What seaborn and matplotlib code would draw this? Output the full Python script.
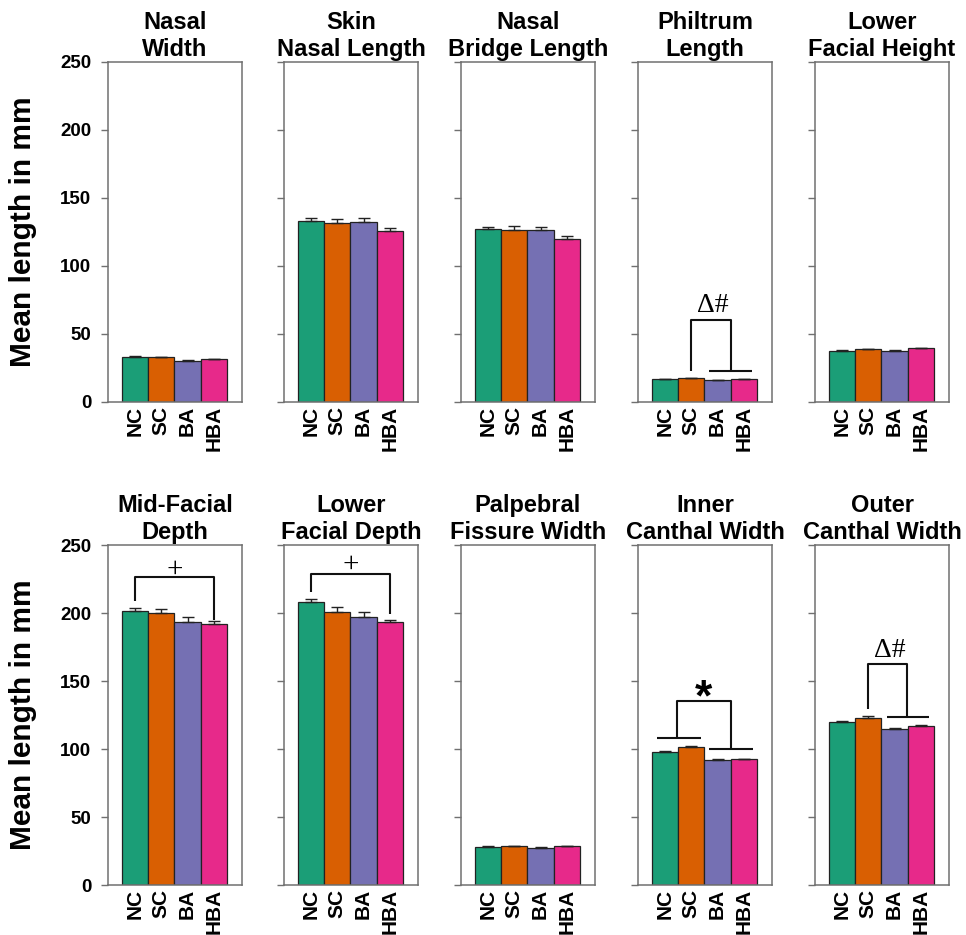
import matplotlib
matplotlib.use("Agg")
import matplotlib.pyplot as plt
import seaborn as sns
import numpy as np

sns.set_style("white")
plt.rcParams['font.family'] = ['Liberation Sans', 'DejaVu Sans']
plt.rcParams['text.color'] = 'black'
plt.rcParams['xtick.color'] = 'black'
plt.rcParams['ytick.color'] = 'black'
plt.rcParams['axes.labelcolor'] = 'black'

# ---------------- data ----------------
groups = ["NC", "SC", "BA", "HBA"]

titles = [
    "Nasal\nWidth", "Skin\nNasal Length", "Nasal\nBridge Length", "Philtrum\nLength", "Lower\nFacial Height",
    "Mid-Facial\nDepth", "Lower\nFacial Depth", "Palpebral\nFissure Width", "Inner\nCanthal Width", "Outer\nCanthal Width",
]

nasal_width = [33.3, 32.8, 30.4, 31.4]
nasal_width_err = [0.5, 0.6, 0.5, 0.5]
skin_nasal_length = [133.3, 131.8, 132.4, 125.7]
skin_nasal_length_err = [2.0, 3.0, 3.0, 2.4]
nasal_bridge_length = [127.0, 126.5, 126.5, 119.6]
nasal_bridge_length_err = [1.5, 3.0, 2.5, 2.2]
philtrum_length = [16.7, 17.4, 16.2, 16.9]
philtrum_length_err = [0.3, 0.3, 0.3, 0.3]
lower_facial_height = [37.7, 38.7, 37.5, 39.5]
lower_facial_height_err = [0.5, 0.6, 0.5, 0.5]
mid_facial_depth = [201.7, 199.8, 193.6, 191.9]
mid_facial_depth_err = [2.0, 3.0, 3.7, 2.2]
lower_facial_depth = [207.8, 200.7, 197.0, 193.4]
lower_facial_depth_err = [2.7, 4.0, 3.7, 1.2]
palpebral_fissure_width = [28.3, 28.6, 27.5, 28.4]
palpebral_fissure_width_err = [0.4, 0.4, 0.4, 0.4]
inner_canthal_width = [98.0, 101.2, 91.9, 92.4]
inner_canthal_width_err = [0.7, 0.9, 0.5, 0.6]
outer_canthal_width = [119.6, 122.8, 114.9, 116.9]
outer_canthal_width_err = [1.0, 1.2, 0.7, 0.9]

means = [nasal_width, skin_nasal_length, nasal_bridge_length, philtrum_length, lower_facial_height,
         mid_facial_depth, lower_facial_depth, palpebral_fissure_width, inner_canthal_width, outer_canthal_width]
errs = [nasal_width_err, skin_nasal_length_err, nasal_bridge_length_err, philtrum_length_err, lower_facial_height_err,
        mid_facial_depth_err, lower_facial_depth_err, palpebral_fissure_width_err, inner_canthal_width_err,
        outer_canthal_width_err]

yticks = [0, 50, 100, 150, 200, 250]
ylabel = "Mean length in mm"

# ---------------- figure ----------------
W, H = 966, 935
fig = plt.figure(figsize=(W / 100, H / 100), dpi=100)
palette = sns.color_palette("Dark2", 4)

lefts_px = [108, 284, 461, 638, 815]
row_bottoms_px = [402, 885]
ax_w_px, ax_h_px = 134, 340
spine_col = "#707070"

axes = []
for i in range(10):
    r, c = divmod(i, 5)
    l = lefts_px[c] / W
    b = (H - row_bottoms_px[r]) / H
    ax = fig.add_axes([l, b, ax_w_px / W, ax_h_px / H])
    axes.append(ax)
    sns.barplot(x=groups, y=means[i], hue=groups, palette=palette, width=1.0, saturation=1,
                edgecolor="#222222", linewidth=0.9, legend=False, ax=ax, errorbar=None)
    ax.errorbar(np.arange(4), means[i], yerr=[np.zeros(4), errs[i]], fmt="none",
                ecolor="#222222", elinewidth=1.0, capsize=4.5, capthick=1.0)
    ax.set_xlim(-1.03, 4.07)
    ax.set_ylim(0, 250)
    ax.set_yticks(yticks)
    ax.set_xlabel("")
    ax.set_ylabel("")
    for s in ax.spines.values():
        s.set_visible(True)
        s.set_color(spine_col)
        s.set_linewidth(1.1)
    ax.tick_params(axis="y", direction="out", length=5, width=1.0, color=spine_col,
                   left=True, labelsize=13.5, pad=7)
    ax.tick_params(axis="x", length=0, pad=3, labelsize=15)
    for t in ax.get_xticklabels():
        t.set_rotation(90)
        t.set_fontweight("bold")
    if c == 0:
        for t in ax.get_yticklabels():
            t.set_fontweight("bold")
        ax.set_ylabel(ylabel, fontsize=21.5, fontweight="bold", labelpad=17)
    else:
        ax.set_yticklabels([])
    ax.set_title(titles[i], fontsize=17, fontweight="bold", pad=4, linespacing=1.25)
    ax.set_facecolor("white")

# ---------------- significance annotations ----------------
lk = dict(color="#111111", lw=1.5, solid_capstyle="butt")
serif = ['Liberation Serif', 'DejaVu Serif']

# Philtrum Length
ax = axes[3]
ax.plot([1, 1, 2.5, 2.5], [23, 60, 60, 23], **lk)
ax.plot([1.68, 3.32], [23, 23], **lk)
ax.text(1.8, 61.5, "Δ#", ha="center", va="bottom", fontsize=20, family=serif)

# Mid-Facial Depth
ax = axes[5]
ax.plot([0, 0, 3, 3], [208.5, 226.5, 226.5, 195], **lk)
ax.text(1.5, 222.5, "+", ha="center", va="bottom", fontsize=21, family=serif)

# Lower Facial Depth
ax = axes[6]
ax.plot([0, 0, 3, 3], [215.5, 229, 229, 199], **lk)
ax.text(1.5, 225.5, "+", ha="center", va="bottom", fontsize=21, family=serif)

# Inner Canthal Width
ax = axes[8]
ax.plot([-0.29, 1.36], [108.3, 108.3], **lk)
ax.plot([0.45, 0.45, 2.5, 2.5], [108.3, 135.3, 135.3, 99.8], **lk)
ax.plot([1.66, 3.34], [99.8, 99.8], **lk)
ax.text(1.46, 121.5, "*", ha="center", va="bottom", fontsize=32, fontweight="bold")

# Outer Canthal Width
ax = axes[9]
ax.plot([1, 1, 2.47, 2.47], [129.6, 162.3, 162.3, 123.5], **lk)
ax.plot([1.7, 3.3], [123.5, 123.5], **lk)
ax.text(1.8, 163.5, "Δ#", ha="center", va="bottom", fontsize=20, family=serif)

fig.savefig("out.png", dpi=100, facecolor="white")
